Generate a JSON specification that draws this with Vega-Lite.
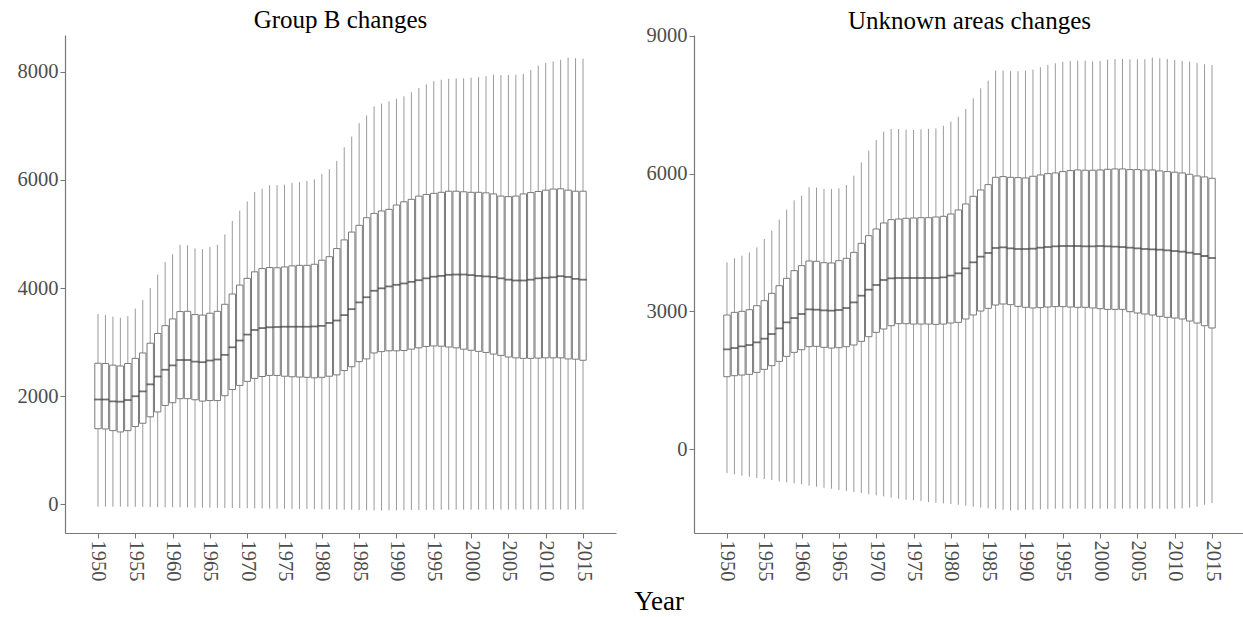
{
  "$schema": "https://vega.github.io/schema/vega-lite/v6.json",
  "padding": {"left": 17, "top": 8, "right": 0, "bottom": 0},
  "background": "white",
  "title": {"text": "Year", "orient": "bottom", "anchor": "middle", "font": "Liberation Serif", "fontSize": 27, "fontWeight": "normal", "color": "black", "offset": 8, "dx": 28},
  "spacing": 30,
  "datasets": {
    "groupB": [
      {"year":1950,"lo":-40,"q1":1400,"med":1940,"q3":2610,"hi":3520},
      {"year":1951,"lo":-40,"q1":1395,"med":1940,"q3":2605,"hi":3500},
      {"year":1952,"lo":-42,"q1":1365,"med":1905,"q3":2575,"hi":3470},
      {"year":1953,"lo":-42,"q1":1340,"med":1900,"q3":2560,"hi":3450},
      {"year":1954,"lo":-44,"q1":1365,"med":1930,"q3":2605,"hi":3480},
      {"year":1955,"lo":-45,"q1":1440,"med":2000,"q3":2700,"hi":3620},
      {"year":1956,"lo":-46,"q1":1500,"med":2090,"q3":2800,"hi":3780},
      {"year":1957,"lo":-48,"q1":1620,"med":2220,"q3":2980,"hi":4000},
      {"year":1958,"lo":-50,"q1":1710,"med":2365,"q3":3160,"hi":4250},
      {"year":1959,"lo":-52,"q1":1830,"med":2490,"q3":3305,"hi":4480},
      {"year":1960,"lo":-54,"q1":1880,"med":2570,"q3":3430,"hi":4625},
      {"year":1961,"lo":-56,"q1":1955,"med":2670,"q3":3565,"hi":4800},
      {"year":1962,"lo":-57,"q1":1955,"med":2670,"q3":3570,"hi":4790},
      {"year":1963,"lo":-58,"q1":1935,"med":2640,"q3":3510,"hi":4730},
      {"year":1964,"lo":-59,"q1":1910,"med":2630,"q3":3500,"hi":4720},
      {"year":1965,"lo":-60,"q1":1920,"med":2660,"q3":3535,"hi":4760},
      {"year":1966,"lo":-62,"q1":1920,"med":2680,"q3":3570,"hi":4800},
      {"year":1967,"lo":-64,"q1":2010,"med":2765,"q3":3700,"hi":4990},
      {"year":1968,"lo":-66,"q1":2125,"med":2905,"q3":3890,"hi":5240},
      {"year":1969,"lo":-68,"q1":2200,"med":3030,"q3":4055,"hi":5430},
      {"year":1970,"lo":-70,"q1":2275,"med":3140,"q3":4180,"hi":5600},
      {"year":1971,"lo":-72,"q1":2330,"med":3225,"q3":4300,"hi":5775},
      {"year":1972,"lo":-74,"q1":2365,"med":3260,"q3":4360,"hi":5840},
      {"year":1973,"lo":-76,"q1":2385,"med":3275,"q3":4380,"hi":5900},
      {"year":1974,"lo":-78,"q1":2385,"med":3280,"q3":4375,"hi":5900},
      {"year":1975,"lo":-80,"q1":2370,"med":3285,"q3":4390,"hi":5910},
      {"year":1976,"lo":-82,"q1":2360,"med":3285,"q3":4410,"hi":5945},
      {"year":1977,"lo":-84,"q1":2355,"med":3285,"q3":4420,"hi":5960},
      {"year":1978,"lo":-86,"q1":2350,"med":3285,"q3":4420,"hi":5980},
      {"year":1979,"lo":-88,"q1":2340,"med":3290,"q3":4440,"hi":6010},
      {"year":1980,"lo":-90,"q1":2350,"med":3300,"q3":4515,"hi":6110},
      {"year":1981,"lo":-92,"q1":2370,"med":3355,"q3":4580,"hi":6200},
      {"year":1982,"lo":-95,"q1":2395,"med":3400,"q3":4730,"hi":6350},
      {"year":1983,"lo":-98,"q1":2475,"med":3500,"q3":4890,"hi":6600},
      {"year":1984,"lo":-100,"q1":2545,"med":3610,"q3":5035,"hi":6800},
      {"year":1985,"lo":-104,"q1":2640,"med":3735,"q3":5160,"hi":7050},
      {"year":1986,"lo":-108,"q1":2690,"med":3830,"q3":5300,"hi":7190},
      {"year":1987,"lo":-110,"q1":2800,"med":3950,"q3":5380,"hi":7360},
      {"year":1988,"lo":-110,"q1":2825,"med":3995,"q3":5425,"hi":7410},
      {"year":1989,"lo":-110,"q1":2840,"med":4030,"q3":5455,"hi":7450},
      {"year":1990,"lo":-108,"q1":2840,"med":4060,"q3":5535,"hi":7500},
      {"year":1991,"lo":-106,"q1":2845,"med":4085,"q3":5595,"hi":7545},
      {"year":1992,"lo":-104,"q1":2870,"med":4115,"q3":5640,"hi":7620},
      {"year":1993,"lo":-102,"q1":2895,"med":4145,"q3":5700,"hi":7700},
      {"year":1994,"lo":-100,"q1":2920,"med":4180,"q3":5730,"hi":7765},
      {"year":1995,"lo":-100,"q1":2930,"med":4210,"q3":5750,"hi":7825},
      {"year":1996,"lo":-98,"q1":2925,"med":4225,"q3":5770,"hi":7850},
      {"year":1997,"lo":-98,"q1":2910,"med":4245,"q3":5790,"hi":7870},
      {"year":1998,"lo":-97,"q1":2895,"med":4250,"q3":5790,"hi":7875},
      {"year":1999,"lo":-96,"q1":2870,"med":4250,"q3":5780,"hi":7880},
      {"year":2000,"lo":-96,"q1":2850,"med":4240,"q3":5770,"hi":7890},
      {"year":2001,"lo":-95,"q1":2830,"med":4225,"q3":5770,"hi":7900},
      {"year":2002,"lo":-95,"q1":2810,"med":4215,"q3":5760,"hi":7915},
      {"year":2003,"lo":-95,"q1":2780,"med":4205,"q3":5740,"hi":7945},
      {"year":2004,"lo":-95,"q1":2755,"med":4180,"q3":5700,"hi":7935},
      {"year":2005,"lo":-95,"q1":2725,"med":4155,"q3":5690,"hi":7940},
      {"year":2006,"lo":-95,"q1":2710,"med":4140,"q3":5700,"hi":7945},
      {"year":2007,"lo":-95,"q1":2700,"med":4140,"q3":5740,"hi":7960},
      {"year":2008,"lo":-95,"q1":2700,"med":4155,"q3":5765,"hi":8030},
      {"year":2009,"lo":-95,"q1":2705,"med":4180,"q3":5785,"hi":8110},
      {"year":2010,"lo":-95,"q1":2710,"med":4190,"q3":5810,"hi":8160},
      {"year":2011,"lo":-95,"q1":2710,"med":4200,"q3":5830,"hi":8190},
      {"year":2012,"lo":-95,"q1":2710,"med":4220,"q3":5835,"hi":8220},
      {"year":2013,"lo":-95,"q1":2690,"med":4205,"q3":5810,"hi":8260},
      {"year":2014,"lo":-95,"q1":2685,"med":4170,"q3":5790,"hi":8250},
      {"year":2015,"lo":-95,"q1":2665,"med":4155,"q3":5790,"hi":8240}
    ],
    "unknown": [
      {"year":1950,"lo":-523,"q1":1576,"med":2172,"q3":2920,"hi":4068},
      {"year":1951,"lo":-545,"q1":1598,"med":2200,"q3":2978,"hi":4155},
      {"year":1952,"lo":-581,"q1":1612,"med":2237,"q3":3000,"hi":4212},
      {"year":1953,"lo":-603,"q1":1627,"med":2266,"q3":3036,"hi":4285},
      {"year":1954,"lo":-632,"q1":1670,"med":2324,"q3":3123,"hi":4394},
      {"year":1955,"lo":-654,"q1":1736,"med":2404,"q3":3232,"hi":4576},
      {"year":1956,"lo":-676,"q1":1816,"med":2506,"q3":3392,"hi":4757},
      {"year":1957,"lo":-705,"q1":1910,"med":2629,"q3":3559,"hi":4997},
      {"year":1958,"lo":-726,"q1":2019,"med":2760,"q3":3719,"hi":5215},
      {"year":1959,"lo":-748,"q1":2106,"med":2854,"q3":3886,"hi":5419},
      {"year":1960,"lo":-770,"q1":2164,"med":2942,"q3":3995,"hi":5520},
      {"year":1961,"lo":-799,"q1":2230,"med":3043,"q3":4097,"hi":5702},
      {"year":1962,"lo":-821,"q1":2237,"med":3036,"q3":4090,"hi":5695},
      {"year":1963,"lo":-843,"q1":2215,"med":3022,"q3":4060,"hi":5670},
      {"year":1964,"lo":-864,"q1":2200,"med":3015,"q3":4053,"hi":5665},
      {"year":1965,"lo":-894,"q1":2208,"med":3029,"q3":4104,"hi":5680},
      {"year":1966,"lo":-915,"q1":2230,"med":3072,"q3":4155,"hi":5753},
      {"year":1967,"lo":-937,"q1":2266,"med":3195,"q3":4285,"hi":5955},
      {"year":1968,"lo":-959,"q1":2346,"med":3341,"q3":4481,"hi":6246},
      {"year":1969,"lo":-988,"q1":2448,"med":3472,"q3":4648,"hi":6500},
      {"year":1970,"lo":-1010,"q1":2542,"med":3574,"q3":4794,"hi":6733},
      {"year":1971,"lo":-1031,"q1":2615,"med":3683,"q3":4925,"hi":6915},
      {"year":1972,"lo":-1060,"q1":2687,"med":3719,"q3":4997,"hi":6973},
      {"year":1973,"lo":-1082,"q1":2731,"med":3726,"q3":5011,"hi":6973},
      {"year":1974,"lo":-1104,"q1":2731,"med":3726,"q3":5026,"hi":6960},
      {"year":1975,"lo":-1118,"q1":2723,"med":3726,"q3":5033,"hi":6950},
      {"year":1976,"lo":-1133,"q1":2723,"med":3726,"q3":5040,"hi":6965},
      {"year":1977,"lo":-1155,"q1":2723,"med":3726,"q3":5040,"hi":6973},
      {"year":1978,"lo":-1169,"q1":2716,"med":3726,"q3":5055,"hi":6985},
      {"year":1979,"lo":-1184,"q1":2723,"med":3741,"q3":5070,"hi":7045},
      {"year":1980,"lo":-1198,"q1":2745,"med":3777,"q3":5120,"hi":7132},
      {"year":1981,"lo":-1213,"q1":2760,"med":3828,"q3":5208,"hi":7241},
      {"year":1982,"lo":-1235,"q1":2833,"med":3937,"q3":5339,"hi":7409},
      {"year":1983,"lo":-1256,"q1":2920,"med":4068,"q3":5506,"hi":7641},
      {"year":1984,"lo":-1278,"q1":3007,"med":4191,"q3":5644,"hi":7859},
      {"year":1985,"lo":-1293,"q1":3065,"med":4271,"q3":5760,"hi":8026},
      {"year":1986,"lo":-1307,"q1":3138,"med":4380,"q3":5920,"hi":8244},
      {"year":1987,"lo":-1322,"q1":3160,"med":4394,"q3":5935,"hi":8244},
      {"year":1988,"lo":-1336,"q1":3145,"med":4372,"q3":5920,"hi":8230},
      {"year":1989,"lo":-1329,"q1":3109,"med":4358,"q3":5913,"hi":8230},
      {"year":1990,"lo":-1322,"q1":3087,"med":4358,"q3":5906,"hi":8244},
      {"year":1991,"lo":-1322,"q1":3073,"med":4365,"q3":5942,"hi":8266},
      {"year":1992,"lo":-1315,"q1":3080,"med":4387,"q3":5971,"hi":8317},
      {"year":1993,"lo":-1307,"q1":3094,"med":4401,"q3":6000,"hi":8367},
      {"year":1994,"lo":-1300,"q1":3102,"med":4416,"q3":6015,"hi":8404},
      {"year":1995,"lo":-1300,"q1":3102,"med":4423,"q3":6044,"hi":8433},
      {"year":1996,"lo":-1300,"q1":3094,"med":4423,"q3":6066,"hi":8455},
      {"year":1997,"lo":-1300,"q1":3087,"med":4423,"q3":6080,"hi":8462},
      {"year":1998,"lo":-1300,"q1":3087,"med":4416,"q3":6073,"hi":8462},
      {"year":1999,"lo":-1300,"q1":3073,"med":4416,"q3":6073,"hi":8447},
      {"year":2000,"lo":-1300,"q1":3058,"med":4423,"q3":6080,"hi":8455},
      {"year":2001,"lo":-1300,"q1":3043,"med":4416,"q3":6095,"hi":8484},
      {"year":2002,"lo":-1300,"q1":3043,"med":4409,"q3":6102,"hi":8498},
      {"year":2003,"lo":-1300,"q1":3043,"med":4401,"q3":6102,"hi":8498},
      {"year":2004,"lo":-1300,"q1":2993,"med":4387,"q3":6088,"hi":8491},
      {"year":2005,"lo":-1300,"q1":2964,"med":4372,"q3":6088,"hi":8491},
      {"year":2006,"lo":-1300,"q1":2942,"med":4358,"q3":6080,"hi":8491},
      {"year":2007,"lo":-1300,"q1":2920,"med":4350,"q3":6080,"hi":8527},
      {"year":2008,"lo":-1300,"q1":2891,"med":4343,"q3":6059,"hi":8513},
      {"year":2009,"lo":-1307,"q1":2870,"med":4329,"q3":6044,"hi":8498},
      {"year":2010,"lo":-1300,"q1":2855,"med":4314,"q3":6030,"hi":8476},
      {"year":2011,"lo":-1293,"q1":2833,"med":4300,"q3":6015,"hi":8455},
      {"year":2012,"lo":-1278,"q1":2789,"med":4278,"q3":5986,"hi":8440},
      {"year":2013,"lo":-1256,"q1":2745,"med":4249,"q3":5949,"hi":8411},
      {"year":2014,"lo":-1213,"q1":2687,"med":4205,"q3":5928,"hi":8382},
      {"year":2015,"lo":-1177,"q1":2637,"med":4162,"q3":5898,"hi":8367}
    ]
  },
  "hconcat": [
    {
      "width": 551,
      "height": 498,
      "title": {"text": "Group B changes", "font": "Liberation Serif", "fontSize": 25, "fontWeight": "normal", "color": "black", "anchor": "middle", "offset": 2},
      "data": {"name": "groupB"},
      "encoding": {
        "x": {"field": "year", "type": "quantitative", "scale": {"domain": [1946.25, 2018.75], "nice": false, "zero": false},
              "axis": {"values": [1950,1955,1960,1965,1970,1975,1980,1985,1990,1995,2000,2005,2010,2015], "format": "d", "labelAngle": 90, "title": null}}
      },
      "layer": [
        {"mark": {"type": "rule", "color": "#9a9a9a", "strokeWidth": 1},
         "encoding": {"y": {"field": "lo", "type": "quantitative", "scale": {"domain": [-528, 8678], "nice": false, "zero": false},
                            "axis": {"values": [0, 2000, 4000, 6000, 8000], "format": "d", "title": null}},
                      "y2": {"field": "hi"}}},
        {"mark": {"type": "bar", "width": 6.4, "fill": "white", "stroke": "#7a7a7a", "strokeWidth": 1},
         "encoding": {"y": {"field": "q1", "type": "quantitative"}, "y2": {"field": "q3"}}},
        {"mark": {"type": "tick", "orient": "horizontal", "size": 7.4, "thickness": 1.8, "color": "#383838"},
         "encoding": {"y": {"field": "med", "type": "quantitative"}}},
        {"mark": {"type": "rule", "color": "#333333", "strokeWidth": 1.5},
         "encoding": {"y": {"datum": 0}}}
      ]
    },
    {
      "width": 551,
      "height": 498,
      "title": {"text": "Unknown areas changes", "font": "Liberation Serif", "fontSize": 25, "fontWeight": "normal", "color": "black", "anchor": "middle", "offset": -8},
      "data": {"name": "unknown"},
      "encoding": {
        "x": {"field": "year", "type": "quantitative", "scale": {"domain": [1946.25, 2018.75], "nice": false, "zero": false},
              "axis": {"values": [1950,1955,1960,1965,1970,1975,1980,1985,1990,1995,2000,2005,2010,2015], "format": "d", "labelAngle": 90, "title": null}}
      },
      "layer": [
        {"mark": {"type": "rule", "color": "#9a9a9a", "strokeWidth": 1},
         "encoding": {"y": {"field": "lo", "type": "quantitative", "scale": {"domain": [-1829, 9020], "nice": false, "zero": false},
                            "axis": {"values": [0, 3000, 6000, 9000], "format": "d", "title": null}},
                      "y2": {"field": "hi"}}},
        {"mark": {"type": "bar", "width": 6.4, "fill": "white", "stroke": "#7a7a7a", "strokeWidth": 1},
         "encoding": {"y": {"field": "q1", "type": "quantitative"}, "y2": {"field": "q3"}}},
        {"mark": {"type": "tick", "orient": "horizontal", "size": 7.4, "thickness": 1.8, "color": "#383838"},
         "encoding": {"y": {"field": "med", "type": "quantitative"}}},
        {"mark": {"type": "rule", "color": "#333333", "strokeWidth": 1.5},
         "encoding": {"y": {"datum": 0}}}
      ]
    }
  ],
  "config": {
    "view": {"stroke": null},
    "axis": {
      "grid": false,
      "labelFont": "Liberation Serif",
      "labelFontSize": 20.5,
      "labelColor": "#4d4d4d",
      "domainColor": "#777777",
      "domainWidth": 1.2,
      "tickColor": "#777777",
      "tickSize": 5,
      "tickWidth": 1,
      "labelPadding": 2
    }
  }
}
